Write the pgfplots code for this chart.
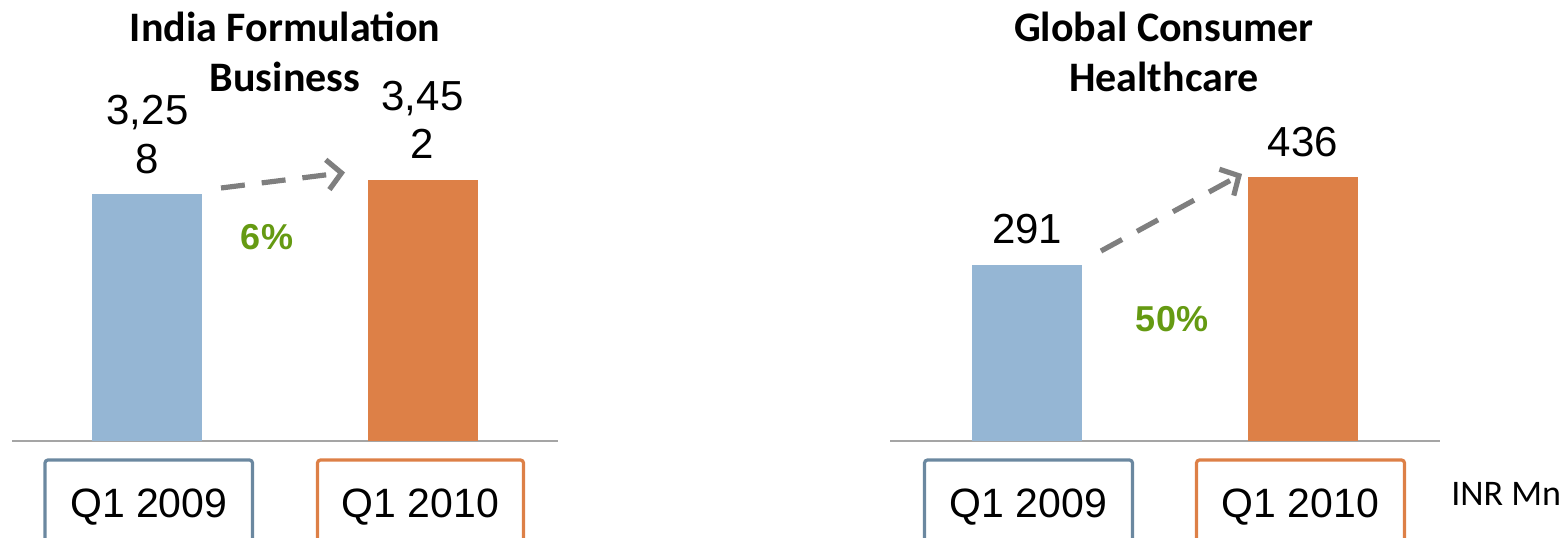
\documentclass[border=0pt]{standalone}
\usepackage{fontspec}
\setmainfont{Liberation Sans}
\newfontfamily\calibri{Carlito}
\usepackage{pgfplots}
\pgfplotsset{compat=1.18}
\usetikzlibrary{arrows.meta}
\definecolor{barblue}{HTML}{95B6D4}
\definecolor{barorange}{HTML}{DD8047}
\definecolor{boxblue}{HTML}{6B88A0}
\definecolor{pctgreen}{HTML}{659A12}
\definecolor{arrowgray}{HTML}{7F7F7F}
\definecolor{basegray}{HTML}{A5A5A5}
\begin{document}
\begin{tikzpicture}
\path[use as bounding box, clip] (0,0) rectangle (782pt,268.5pt);
\pgfplotsset{panel/.style={scale only axis, height=220pt, ymin=0,
  axis x line=bottom, axis y line=none, xtick=\empty, ytick=\empty,
  axis line style={-, basegray, line width=1pt}, ybar, clip=false,
  bar width=55pt}}
\tikzset{lab/.style={anchor=base, font=\fontsize{21}{24}\selectfont, inner sep=0pt}}
% Left panel
\begin{axis}[panel, at={(6pt,48pt)}, anchor=south west, width=273pt,
  xmin=-0.4927, xmax=1.4927, ymax=5812]
\addplot[fill=barblue, draw=none, bar shift=0pt] coordinates {(0,3258)};
\addplot[fill=barorange, draw=none, bar shift=0pt] coordinates {(1,3452)};
\node[lab, yshift=10.5pt] at (axis cs:0,3258) {8};
\node[lab, yshift=35pt] at (axis cs:0,3258) {3,25};
\node[lab, yshift=10.5pt] at (axis cs:1,3452) {2};
\node[lab, yshift=34.5pt] at (axis cs:1,3452) {3,45};
\end{axis}
% Right panel
\begin{axis}[panel, at={(445pt,48pt)}, anchor=south west, width=275pt,
  xmin=-0.498, xmax=1.498, ymax=727]
\addplot[fill=barblue, draw=none, bar shift=0pt] coordinates {(0,291)};
\addplot[fill=barorange, draw=none, bar shift=0pt] coordinates {(1,436)};
\node[lab, yshift=10.5pt] at (axis cs:0,291) {291};
\node[lab, yshift=10.5pt] at (axis cs:1,436) {436};
\end{axis}
\begin{scope}[x=0.5pt, y=-0.5pt, shift={(0pt,268.5pt)}]
% titles
\tikzset{ttl/.style={anchor=base, font=\calibri\bfseries\fontsize{21}{25}\selectfont, inner sep=0pt}}
\node[ttl] at (285,42) {India Formulation};
\node[ttl] at (285,92) {Business};
\node[ttl] at (1164,42) {Global Consumer};
\node[ttl] at (1164,92) {Healthcare};
% arrows
\tikzset{garr/.style={arrowgray, line width=2.6pt, dash pattern=on 12pt off 8.5pt,
  -{Straight Barb[length=7pt, width=15pt]}}}
\draw[garr] (221,188) -- (345,172.5);
\draw[garr] (1101,251) -- (1242,174);
% percentages
\tikzset{pct/.style={anchor=base, text=pctgreen, font=\bfseries\fontsize{18}{20}\selectfont, inner sep=0pt}}
\node[pct] at (267,249) {6\%};
\node[pct] at (1172,331) {50\%};
% category boxes
\draw[boxblue, line width=1.6pt, rounded corners=1.5pt] (45,460) rectangle (252.5,580);
\draw[barorange, line width=1.6pt, rounded corners=1.5pt] (317.5,460) rectangle (523.5,580);
\draw[boxblue, line width=1.6pt, rounded corners=1.5pt] (924.5,460) rectangle (1132.5,580);
\draw[barorange, line width=1.6pt, rounded corners=1.5pt] (1196.5,460) rectangle (1404.5,580);
\tikzset{qlab/.style={anchor=base, font=\fontsize{20.5}{24}\selectfont, inner sep=0pt}}
\node[qlab] at (148.75,517) {Q1 2009};
\node[qlab] at (420.5,517) {Q1 2010};
\node[qlab] at (1028.5,517) {Q1 2009};
\node[qlab] at (1300.5,517) {Q1 2010};
\node[anchor=base west, inner sep=0pt, font=\calibri\fontsize{18}{20}\selectfont] at (1451,505) {INR Mn};
\end{scope}
\end{tikzpicture}
\end{document}
